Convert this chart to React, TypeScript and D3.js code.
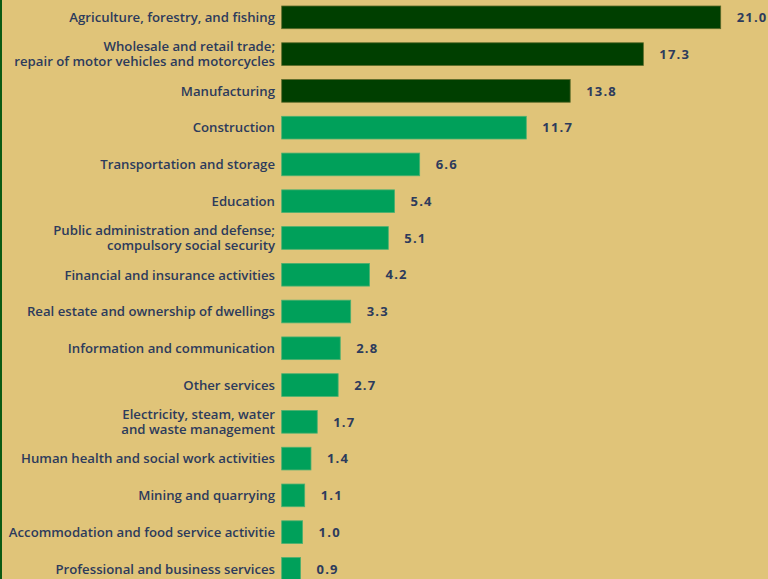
import React, { useEffect, useRef } from "react";
import * as d3 from "d3";

const categories: string[][] = [
  ["Agriculture, forestry, and fishing"],
  ["Wholesale and retail trade;", "repair of motor vehicles and motorcycles"],
  ["Manufacturing"],
  ["Construction"],
  ["Transportation and storage"],
  ["Education"],
  ["Public administration and defense;", "compulsory social security"],
  ["Financial and insurance activities"],
  ["Real estate and ownership of dwellings"],
  ["Information and communication"],
  ["Other services"],
  ["Electricity, steam, water", "and waste management"],
  ["Human health and social work activities"],
  ["Mining and quarrying"],
  ["Accommodation and food service activitie"],
  ["Professional and business services"],
];
const values: number[] = [21.0, 17.3, 13.8, 11.7, 6.6, 5.4, 5.1, 4.2, 3.3, 2.8, 2.7, 1.7, 1.4, 1.1, 1.0, 0.9];
const highlighted: boolean[] = [true, true, true, false, false, false, false, false, false, false, false, false, false, false, false, false];

const W = 768;
const H = 579;
const BG = "#e0c479";
const DARK = "#003f00";
const LIGHT = "#00a05a";
const TEXT = "#2d3b5c";

export default function App() {
  const ref = useRef<SVGSVGElement>(null);
  useEffect(() => {
    const svg = d3.select(ref.current);
    svg.selectAll("*").remove();
    const idx = values.map((_, i) => String(i));
    const y = d3.scaleBand().domain(idx).range([-1.04, 587.3]).paddingInner(0.383).paddingOuter(0.1915);
    const x = d3.scaleLinear().domain([0, 21]).range([281.7, 720.7]);

    svg.append("rect").attr("x", 0).attr("y", 0).attr("width", W).attr("height", H).attr("fill", BG);
    svg.append("rect").attr("x", 0).attr("y", 0).attr("width", 2).attr("height", H).attr("fill", "#0b5a12");

    const g = svg.append("g");
    g.selectAll("rect.bar")
      .data(values)
      .join("rect")
      .attr("class", "bar")
      .attr("x", x(0))
      .attr("y", (_, i) => y(String(i))!)
      .attr("width", (d) => x(d) - x(0))
      .attr("height", y.bandwidth())
      .attr("fill", (_, i) => (highlighted[i] ? DARK : LIGHT))
      .attr("stroke", (_, i) => (highlighted[i] ? "#5a6a2a" : "#4cb070"))
      .attr("stroke-width", 0.8);

    g.selectAll("text.val")
      .data(values)
      .join("text")
      .attr("class", "val")
      .attr("x", (d) => x(d) + 16)
      .attr("y", (_, i) => y(String(i))! + y.bandwidth() / 2)
      .attr("dy", "0.36em")
      .attr("fill", TEXT)
      .attr("font-family", "'Open Sans', sans-serif")
      .attr("font-weight", 700)
      .attr("font-size", 13)
      .attr("letter-spacing", 1.2)
      .text((d) => d.toFixed(1));

    const labels = g.selectAll("text.lab")
      .data(categories)
      .join("text")
      .attr("class", "lab")
      .attr("text-anchor", "end")
      .attr("fill", TEXT)
      .attr("font-family", "'Open Sans', sans-serif")
      .attr("font-weight", 600)
      .attr("font-size", 13.2)
      .attr("transform", (_, i) => `translate(275,${y(String(i))! + y.bandwidth() / 2})`);
    labels.each(function (lines) {
      const t = d3.select(this);
      const n = lines.length;
      lines.forEach((ln, k) => {
        t.append("tspan")
          .attr("x", 0)
          .attr("y", (k - (n - 1) / 2) * 15)
          .attr("dy", "0.36em")
          .text(ln);
      });
    });
  }, []);
  return (
    <svg
      ref={ref}
      width={W}
      height={H}
      style={{ position: "fixed", left: 0, top: 0, display: "block" }}
    />
  );
}
